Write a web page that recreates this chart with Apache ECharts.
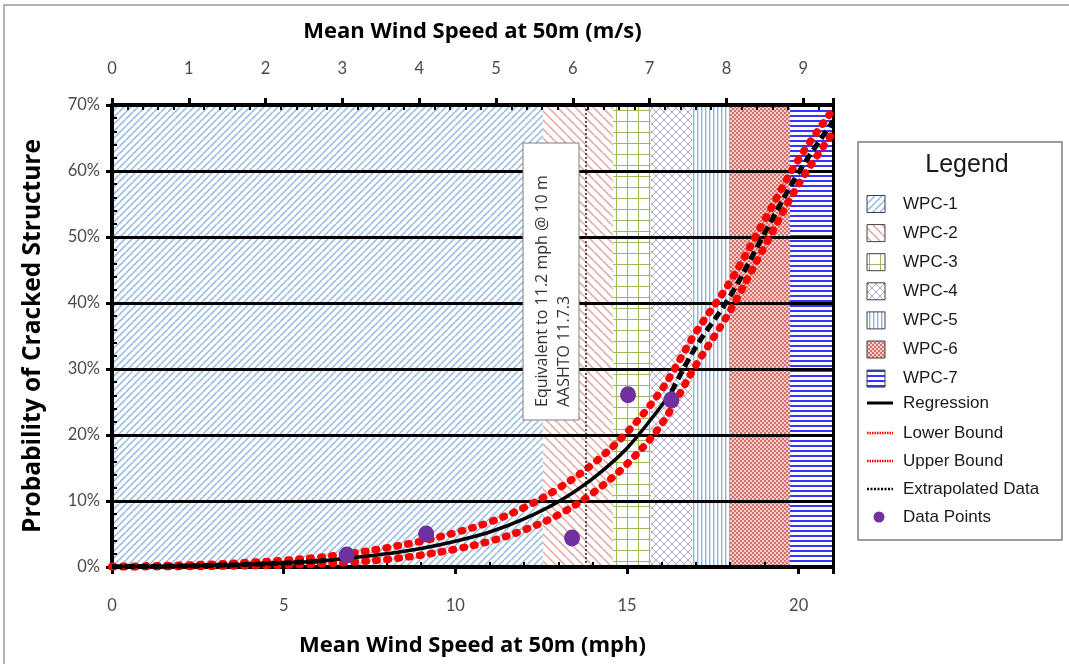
<!DOCTYPE html>
<html><head><meta charset="utf-8">
<script src="https://cdn.jsdelivr.net/npm/echarts@6/dist/echarts.min.js"></script>
<style>html,body{margin:0;padding:0;background:#fff}#c{width:1069px;height:664px}</style>
</head><body><div id="c"></div><script>
// ---------- data ----------
const bandNames = ['WPC-1','WPC-2','WPC-3','WPC-4','WPC-5','WPC-6','WPC-7'];
const bandStartMph = [0, 12.55, 14.6, 15.7, 16.9, 18.0, 19.75];
const bandEndMph   = [12.55, 14.6, 15.7, 16.9, 18.0, 19.75, 21];

const regressionMph = [0,1,2,3,4,5,6,7,8,9,10,11,12,13,14,15,16,16.3];
const regressionPct = [0.05,0.08,0.15,0.25,0.4,0.6,0.9,1.4,2.0,2.8,3.9,5.3,7.3,9.9,13.4,18.0,24.4,26.6];

const extrapolatedMph = [16.3,17,18,19,20,21];
const extrapolatedPct = [26.6,33.3,41.0,50.5,59.8,67.5];
const extrapolatedLowMph = [0,1,2,3,4,5,6,6.2];
const extrapolatedLowPct = [0.05,0.08,0.15,0.25,0.4,0.6,0.9,1.0];

const boundMph = [0,1,2,3,4,5,6,7,8,9,10,11,12,13,14,15,16,17,18,19,20,21];
const lowerPct = [0.0,0.02,0.06,0.12,0.2,0.3,0.45,0.75,1.15,1.8,2.7,3.9,5.6,7.9,11.2,15.6,21.6,30.5,38.8,48.5,58.0,65.8];
const upperPct = [0.1,0.15,0.27,0.45,0.7,1.0,1.45,2.1,2.9,3.9,5.2,6.8,9.0,11.9,15.6,20.4,26.8,35.5,43.2,52.5,61.8,69.3];

const pointMph = [6.84, 9.15, 13.4, 15.03, 16.29];
const pointPct = [1.8, 5.0, 4.4, 26.1, 25.3];

const referenceMph = 13.8;
const mphMax = 21;
const msPerMph = 1 / 2.23694;
const yMax = 70;

// ---------- patterns ----------
function makePattern(w, h, draw) {
  const c = document.createElement('canvas');
  c.width = w; c.height = h;
  const g = c.getContext('2d');
  g.fillStyle = '#fff'; g.fillRect(0, 0, w, h);
  draw(g, w, h);
  return { image: c, repeat: 'repeat' };
}
const patterns = [
  makePattern(7, 7, (g, w, h) => { g.strokeStyle = '#8db4e2'; g.lineWidth = 1.4; g.beginPath();
    for (const k of [-w, 0, w]) { g.moveTo(k, h); g.lineTo(k + w, 0); } g.stroke(); }),
  makePattern(9, 9, (g, w, h) => { g.strokeStyle = '#e3a09b'; g.lineWidth = 1.4; g.beginPath();
    for (const k of [-w, 0, w]) { g.moveTo(k, 0); g.lineTo(k + w, h); } g.stroke(); }),
  makePattern(11, 11, (g, w, h) => { g.strokeStyle = '#9bbb59'; g.lineWidth = 1; g.beginPath();
    g.moveTo(0.5, 0); g.lineTo(0.5, h); g.moveTo(0, 0.5); g.lineTo(w, 0.5); g.stroke(); }),
  makePattern(8, 8, (g, w, h) => { g.strokeStyle = '#b4a4d0'; g.lineWidth = 1; g.beginPath();
    for (const k of [-w, 0, w]) { g.moveTo(k, h); g.lineTo(k + w, 0); g.moveTo(k, 0); g.lineTo(k + w, h); } g.stroke(); }),
  makePattern(4, 4, (g, w, h) => { g.fillStyle = '#8db4e2'; g.fillRect(1, 0, 1.4, h); }),
  makePattern(4, 4, (g, w, h) => { g.fillStyle = '#f2cfcd'; g.fillRect(0, 0, w, h); g.fillStyle = '#d5716d';
    g.fillRect(0, 0, 2, 2); g.fillRect(2, 2, 2, 2); }),
  makePattern(4, 5, (g, w, h) => { g.fillStyle = '#3535ff'; g.fillRect(0, 0, w, 2); })
];

// ---------- chart ----------
const chart = echarts.init(document.getElementById('c'), null, { renderer: 'canvas' });
const tickFont = { fontFamily: 'Lato', fontSize: 16.5, color: '#4a4a4a' };
const nameFont = { fontFamily: 'Open Sans', fontSize: 22, fontWeight: 'bold', color: '#000' };
const yNameFont = { fontFamily: 'Open Sans', fontSize: 24.5, fontWeight: 'bold', color: '#000' };
const pair = (xs, ys) => xs.map((x, i) => [x, ys[i]]);

const legendItems = [];
const legendTop = 204;
bandNames.forEach((n, i) => {
  const y = legendTop + i * 29.1;
  legendItems.push({ type: 'rect', shape: { x: 867, y: y - 8.5, width: 18, height: 17 },
    style: { fill: patterns[i], stroke: '#404040', lineWidth: 1 }, z: 20 });
  legendItems.push({ type: 'text', x: 903, y: y, style: { text: n, font: '17px "Liberation Sans"', fill: '#1a1a1a', textVerticalAlign: 'middle' }, z: 20 });
});
const lineLegend = [
  { name: 'Regression', y: 403, kind: 'solid' },
  { name: 'Lower Bound', y: 433, kind: 'red' },
  { name: 'Upper Bound', y: 461, kind: 'red' },
  { name: 'Extrapolated Data', y: 489, kind: 'dot' },
  { name: 'Data Points', y: 517, kind: 'point' }
];
lineLegend.forEach(it => {
  if (it.kind === 'solid') legendItems.push({ type: 'line', shape: { x1: 867, y1: it.y, x2: 893, y2: it.y }, style: { stroke: '#000', lineWidth: 3 }, z: 20 });
  if (it.kind === 'red') legendItems.push({ type: 'line', shape: { x1: 867, y1: it.y, x2: 893, y2: it.y }, style: { stroke: '#ff0000', lineWidth: 2.5, lineDash: [1.5, 1] }, z: 20 });
  if (it.kind === 'dot') legendItems.push({ type: 'line', shape: { x1: 867, y1: it.y, x2: 893, y2: it.y }, style: { stroke: '#000', lineWidth: 2.5, lineDash: [2, 1.5] }, z: 20 });
  if (it.kind === 'point') legendItems.push({ type: 'circle', shape: { cx: 879, cy: it.y, r: 5.5 }, style: { fill: '#7030a0' }, z: 20 });
  legendItems.push({ type: 'text', x: 903, y: it.y, style: { text: it.name, font: '17px "Liberation Sans"', fill: '#1a1a1a', textVerticalAlign: 'middle' }, z: 20 });
});

const option = {
  animation: false,
  backgroundColor: '#fff',
  grid: { left: 112, right: 236, top: 105, bottom: 97, containLabel: false },
  xAxis: [
    { type: 'value', position: 'bottom', min: 0, max: mphMax, interval: 5, z: 2,
      name: 'Mean Wind Speed at 50m (mph)', nameLocation: 'middle', nameGap: 68, nameTextStyle: nameFont,
      axisLine: { show: true, onZero: false, lineStyle: { color: '#000', width: 4 } },
      axisTick: { show: true, length: 7, lineStyle: { color: '#000', width: 3 } },
      minorTick: { show: true, splitNumber: 5, length: -5, lineStyle: { color: '#000', width: 2 } },
      axisLabel: Object.assign({ margin: 30, showMaxLabel: false }, tickFont),
      splitLine: { show: false } },
    { type: 'value', position: 'top', min: 0, max: mphMax * msPerMph, interval: 1, z: 2,
      name: 'Mean Wind Speed at 50m (m/s)', nameLocation: 'middle', nameGap: 62, nameTextStyle: nameFont,
      axisLine: { show: true, onZero: false, lineStyle: { color: '#000', width: 4 } },
      axisTick: { show: true, length: 7, lineStyle: { color: '#000', width: 3 } },
      minorTick: { show: true, splitNumber: 5, length: -5, lineStyle: { color: '#000', width: 2 } },
      axisLabel: Object.assign({ margin: 28, showMaxLabel: false }, tickFont),
      splitLine: { show: false } }
  ],
  yAxis: [
    { type: 'value', min: 0, max: yMax, interval: 10, z: 2,
      name: 'Probability of Cracked Structure', nameLocation: 'middle', nameGap: 66, nameTextStyle: yNameFont,
      axisLine: { show: true, onZero: false, lineStyle: { color: '#000', width: 4 } },
      axisTick: { show: true, length: 6, lineStyle: { color: '#000', width: 3 } },
      minorTick: { show: true, splitNumber: 5, length: -5, lineStyle: { color: '#000', width: 2 } },
      axisLabel: Object.assign({ margin: 12, formatter: '{value}%' }, tickFont),
      splitLine: { show: true, lineStyle: { color: '#000', width: 3 } } },
    { type: 'value', position: 'right', min: 0, max: yMax, z: 2,
      axisLine: { show: true, onZero: false, lineStyle: { color: '#000', width: 3 } },
      axisTick: { show: false }, axisLabel: { show: false }, splitLine: { show: false } }
  ],
  series: [
    { type: 'custom', name: 'bands', z: 1, silent: true, clip: true,
      data: bandNames.map((n, i) => [bandStartMph[i], bandEndMph[i], i]),
      encode: { x: [0, 1] },
      renderItem: (params, api) => {
        const p0 = api.coord([api.value(0), yMax]);
        const p1 = api.coord([api.value(1), 0]);
        return { type: 'rect', shape: { x: p0[0], y: p0[1], width: p1[0] - p0[0], height: p1[1] - p0[1] },
          style: { fill: patterns[api.value(2)] } };
      } },
    { type: 'line', name: 'Reference', z: 3, data: [], symbol: 'none',
      markLine: { silent: true, symbol: 'none', label: { show: false },
        lineStyle: { color: '#222', type: [2, 2], width: 1.5 },
        data: [{ xAxis: referenceMph }] } },
    { type: 'line', name: 'Lower Bound', z: 4, data: pair(boundMph, lowerPct), symbol: 'none', smooth: 0.35,
      lineStyle: { color: '#ff0000', width: 7.5, type: [1.5, 9.5], cap: 'round' } },
    { type: 'line', name: 'Upper Bound', z: 4, data: pair(boundMph, upperPct), symbol: 'none', smooth: 0.35,
      lineStyle: { color: '#ff0000', width: 7.5, type: [1.5, 9.5], cap: 'round' } },
    { type: 'line', name: 'Regression', z: 5, data: pair(regressionMph, regressionPct), symbol: 'none', smooth: 0.35,
      lineStyle: { color: '#000', width: 3.5 } },
    { type: 'line', name: 'Extrapolated Data', z: 5, data: pair(extrapolatedMph, extrapolatedPct), symbol: 'none', smooth: 0.35,
      lineStyle: { color: '#000', width: 5, type: [9, 5] } },
    { type: 'line', name: 'Extrapolated Low', z: 5, data: pair(extrapolatedLowMph, extrapolatedLowPct), symbol: 'none', smooth: 0.35,
      lineStyle: { color: '#000', width: 5, type: [10, 3] } },
    { type: 'scatter', name: 'Data Points', z: 6, data: pair(pointMph, pointPct), symbolSize: [16, 17],
      itemStyle: { color: '#7030a0', opacity: 1 } }
  ],
  graphic: [
    { type: 'polyline', shape: { points: [[4, 700], [4, 5], [1069, 5]] }, style: { stroke: '#9a9a9a', lineWidth: 1.5, fill: null }, z: 20 },
    { type: 'rect', shape: { x: 523, y: 143, width: 56, height: 277 }, style: { fill: '#fff', stroke: '#7f7f7f', lineWidth: 1 }, z: 20 },
    { type: 'text', x: 542, y: 407, rotation: Math.PI / 2,
      style: { text: 'Equivalent to 11.2 mph @ 10 m', font: '16px "Open Sans"', fill: '#333', textAlign: 'left', textVerticalAlign: 'middle' }, z: 21 },
    { type: 'text', x: 564, y: 407, rotation: Math.PI / 2,
      style: { text: 'AASHTO 11.7.3', font: '16px "Open Sans"', fill: '#333', textAlign: 'left', textVerticalAlign: 'middle' }, z: 21 },
    { type: 'rect', shape: { x: 858, y: 142, width: 204, height: 398 }, style: { fill: '#fff', stroke: '#7f7f7f', lineWidth: 1.5 }, z: 19 },
    { type: 'text', x: 967, y: 165, style: { text: 'Legend', font: '25px "Liberation Sans"', fill: '#1a1a1a', textAlign: 'center', textVerticalAlign: 'middle' }, z: 20 }
  ].concat(legendItems)
};
chart.setOption(option);
</script></body></html>
